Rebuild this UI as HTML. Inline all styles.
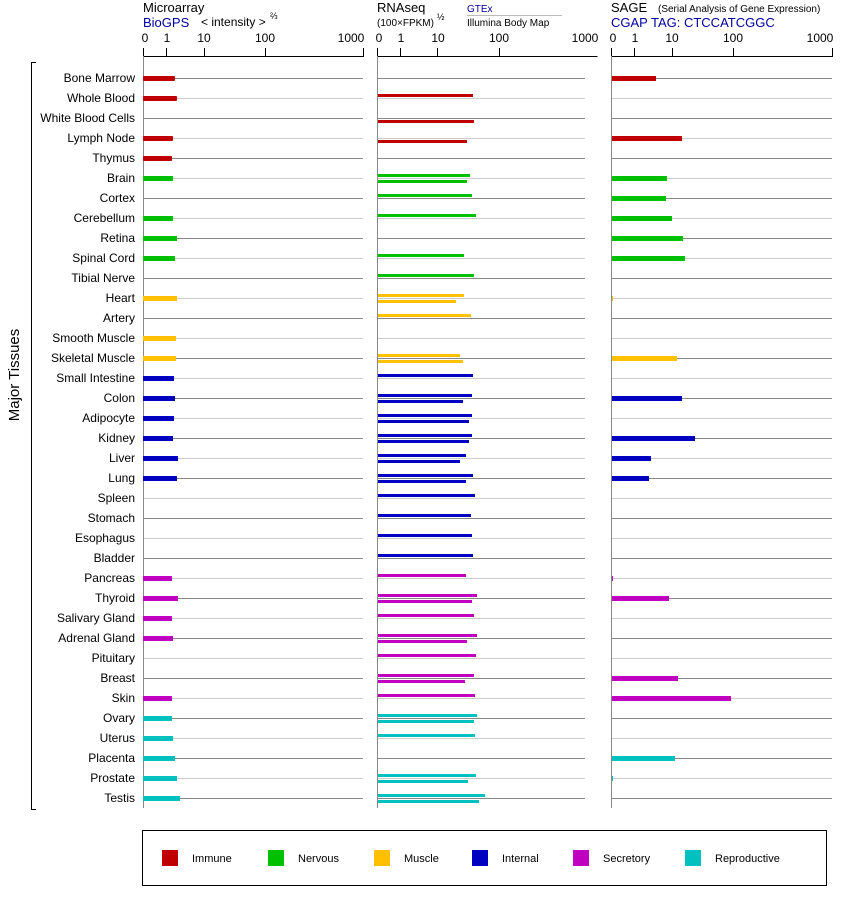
<!DOCTYPE html>
<html><head><meta charset="utf-8"><style>body{margin:0;background:#fff}svg{display:block;font-family:"Liberation Sans",sans-serif}</style></head><body>
<svg width="842" height="900" viewBox="0 0 842 900" xmlns="http://www.w3.org/2000/svg">
<defs>
<pattern id="gp" patternUnits="userSpaceOnUse" x="0" y="78" width="900" height="40">
<rect x="0" y="0" width="900" height="1" fill="#888"/><rect x="0" y="20" width="900" height="1" fill="#ccc"/>
</pattern>
</defs>
<g font-size="13" fill="#000">
<text x="143" y="12">Microarray</text>
<text x="143" y="27" fill="#0000a0">BioGPS</text>
<text x="201" y="26" font-size="12">&lt; intensity &gt;</text><text x="270" y="19" font-size="9">⅔</text>
<text x="377" y="12">RNAseq</text>
<text x="377" y="26" font-size="10">(100×FPKM)</text><text x="437" y="20" font-size="9">½</text>
<text x="467" y="12" font-size="10" fill="#0000a0">GTEx</text>
<line x1="467" y1="15.5" x2="562" y2="15.5" stroke="#bbb"/>
<text x="467" y="26" font-size="10">Illumina Body Map</text>
<text x="611" y="12">SAGE</text><text x="658" y="12" font-size="10">(Serial Analysis of Gene Expression)</text>
<text x="611" y="27" fill="#0000a0">CGAP TAG: CTCCATCGGC</text>
</g>
<g font-size="12" text-anchor="middle">
<text x="145" y="42">0</text><text x="167" y="42">1</text><text x="204" y="42">10</text><text x="265" y="42">100</text><text x="351" y="42">1000</text>
<text x="379" y="42">0</text><text x="401" y="42">1</text><text x="438" y="42">10</text><text x="499" y="42">100</text><text x="585" y="42">1000</text>
<text x="613" y="42">0</text><text x="635" y="42">1</text><text x="672" y="42">10</text><text x="733" y="42">100</text><text x="820" y="42">1000</text>
</g>
<g stroke="#000" stroke-width="1" fill="none">
<path d="M143.5 48V56.5H363.5V48M166.5 48V56M204.5 48V56M265.5 48V56"/>
<path d="M377.5 48V56.5H597.5M400.5 48V56M437.5 48V56M499.5 48V56"/>
<path d="M611.5 48V56.5H832.5V48M634.5 48V56M672.5 48V56M733.5 48V56"/>
<path d="M36 62.5H31.5V809.5H36"/>
</g>
<text transform="translate(19,375) rotate(-90)" font-size="15" text-anchor="middle">Major Tissues</text>
<rect x="143" y="78" width="220" height="721" fill="url(#gp)"/>
<rect x="377" y="78" width="208" height="721" fill="url(#gp)"/>
<rect x="611" y="78" width="221" height="721" fill="url(#gp)"/>
<g stroke="#888"><line x1="143.5" y1="56" x2="143.5" y2="808"/><line x1="377.5" y1="56" x2="377.5" y2="808"/><line x1="611.5" y1="56" x2="611.5" y2="808"/></g>
<g font-size="12" text-anchor="end">
<text x="135" y="82">Bone Marrow</text><text x="135" y="102">Whole Blood</text><text x="135" y="122">White Blood Cells</text><text x="135" y="142">Lymph Node</text><text x="135" y="162">Thymus</text><text x="135" y="182">Brain</text><text x="135" y="202">Cortex</text><text x="135" y="222">Cerebellum</text><text x="135" y="242">Retina</text><text x="135" y="262">Spinal Cord</text><text x="135" y="282">Tibial Nerve</text><text x="135" y="302">Heart</text><text x="135" y="322">Artery</text><text x="135" y="342">Smooth Muscle</text><text x="135" y="362">Skeletal Muscle</text><text x="135" y="382">Small Intestine</text><text x="135" y="402">Colon</text><text x="135" y="422">Adipocyte</text><text x="135" y="442">Kidney</text><text x="135" y="462">Liver</text><text x="135" y="482">Lung</text><text x="135" y="502">Spleen</text><text x="135" y="522">Stomach</text><text x="135" y="542">Esophagus</text><text x="135" y="562">Bladder</text><text x="135" y="582">Pancreas</text><text x="135" y="602">Thyroid</text><text x="135" y="622">Salivary Gland</text><text x="135" y="642">Adrenal Gland</text><text x="135" y="662">Pituitary</text><text x="135" y="682">Breast</text><text x="135" y="702">Skin</text><text x="135" y="722">Ovary</text><text x="135" y="742">Uterus</text><text x="135" y="762">Placenta</text><text x="135" y="782">Prostate</text><text x="135" y="802">Testis</text>
</g>
<g fill="#c00000"><rect x="143" y="76" width="32" height="5" rx="1"/><rect x="143" y="96" width="34" height="5" rx="1"/><rect x="143" y="136" width="30" height="5" rx="1"/><rect x="143" y="156" width="29" height="5" rx="1"/></g>
<g fill="#00c000"><rect x="143" y="176" width="30" height="5"/><rect x="143" y="216" width="30" height="5"/><rect x="143" y="236" width="34" height="5"/><rect x="143" y="256" width="32" height="5"/></g>
<g fill="#ffc000"><rect x="143" y="296" width="34" height="5"/><rect x="143" y="336" width="33" height="5"/><rect x="143" y="356" width="33" height="5"/></g>
<g fill="#0000c0"><rect x="143" y="376" width="31" height="5"/><rect x="143" y="396" width="32" height="5"/><rect x="143" y="416" width="31" height="5"/><rect x="143" y="436" width="30" height="5"/><rect x="143" y="456" width="35" height="5"/><rect x="143" y="476" width="34" height="5"/></g>
<g fill="#c000c0"><rect x="143" y="576" width="29" height="5"/><rect x="143" y="596" width="35" height="5"/><rect x="143" y="616" width="29" height="5"/><rect x="143" y="636" width="30" height="5"/><rect x="143" y="696" width="29" height="5"/></g>
<g fill="#00c0c0"><rect x="143" y="716" width="29" height="5"/><rect x="143" y="736" width="30" height="5"/><rect x="143" y="756" width="32" height="5"/><rect x="143" y="776" width="34" height="5"/><rect x="143" y="796" width="37" height="5"/></g>
<g fill="#c00000"><rect x="378" y="94" width="95" height="3"/><rect x="378" y="120" width="96" height="3"/><rect x="378" y="140" width="89" height="3"/></g>
<g fill="#00c000"><rect x="378" y="174" width="92" height="3"/><rect x="378" y="180" width="89" height="3"/><rect x="378" y="194" width="94" height="3"/><rect x="378" y="214" width="98" height="3"/><rect x="378" y="254" width="86" height="3"/><rect x="378" y="274" width="96" height="3"/></g>
<g fill="#ffc000"><rect x="378" y="294" width="86" height="3"/><rect x="378" y="300" width="78" height="3"/><rect x="378" y="314" width="93" height="3"/><rect x="378" y="354" width="82" height="3"/><rect x="378" y="360" width="85" height="3"/></g>
<g fill="#0000c0"><rect x="378" y="374" width="95" height="3"/><rect x="378" y="394" width="94" height="3"/><rect x="378" y="400" width="85" height="3"/><rect x="378" y="414" width="94" height="3"/><rect x="378" y="420" width="91" height="3"/><rect x="378" y="434" width="94" height="3"/><rect x="378" y="440" width="91" height="3"/><rect x="378" y="454" width="88" height="3"/><rect x="378" y="460" width="82" height="3"/><rect x="378" y="474" width="95" height="3"/><rect x="378" y="480" width="88" height="3"/><rect x="378" y="494" width="97" height="3"/><rect x="378" y="514" width="93" height="3"/><rect x="378" y="534" width="94" height="3"/><rect x="378" y="554" width="95" height="3"/></g>
<g fill="#c000c0"><rect x="378" y="574" width="88" height="3"/><rect x="378" y="594" width="99" height="3"/><rect x="378" y="600" width="94" height="3"/><rect x="378" y="614" width="96" height="3"/><rect x="378" y="634" width="99" height="3"/><rect x="378" y="640" width="89" height="3"/><rect x="378" y="654" width="98" height="3"/><rect x="378" y="674" width="96" height="3"/><rect x="378" y="680" width="87" height="3"/><rect x="378" y="694" width="97" height="3"/></g>
<g fill="#00c0c0"><rect x="378" y="714" width="99" height="3"/><rect x="378" y="720" width="96" height="3"/><rect x="378" y="734" width="97" height="3"/><rect x="378" y="774" width="98" height="3"/><rect x="378" y="780" width="90" height="3"/><rect x="378" y="794" width="107" height="3"/><rect x="378" y="800" width="101" height="3"/></g>
<g fill="#c00000"><rect x="612" y="76" width="44" height="5"/><rect x="612" y="136" width="70" height="5"/></g>
<g fill="#00c000"><rect x="612" y="176" width="55" height="5"/><rect x="612" y="196" width="54" height="5"/><rect x="612" y="216" width="60" height="5"/><rect x="612" y="236" width="71" height="5"/><rect x="612" y="256" width="73" height="5"/></g>
<g fill="#ffc000"><rect x="612" y="296" width="1" height="5"/><rect x="612" y="356" width="65" height="5"/></g>
<g fill="#0000c0"><rect x="612" y="396" width="70" height="5"/><rect x="612" y="436" width="83" height="5"/><rect x="612" y="456" width="39" height="5"/><rect x="612" y="476" width="37" height="5"/></g>
<g fill="#c000c0"><rect x="612" y="576" width="1" height="5"/><rect x="612" y="596" width="57" height="5"/><rect x="612" y="676" width="66" height="5"/><rect x="612" y="696" width="119" height="5"/></g>
<g fill="#00c0c0"><rect x="612" y="756" width="63" height="5"/><rect x="612" y="776" width="1" height="5"/></g>
<rect x="142.5" y="830.5" width="684" height="55" fill="none" stroke="#000"/>
<g font-size="11">
<rect x="162" y="850" width="16" height="16" fill="#c00000"/><text x="192" y="862">Immune</text>
<rect x="268" y="850" width="16" height="16" fill="#00c000"/><text x="298" y="862">Nervous</text>
<rect x="374" y="850" width="16" height="16" fill="#ffc000"/><text x="404" y="862">Muscle</text>
<rect x="472" y="850" width="16" height="16" fill="#0000c0"/><text x="502" y="862">Internal</text>
<rect x="573" y="850" width="16" height="16" fill="#c000c0"/><text x="603" y="862">Secretory</text>
<rect x="685" y="850" width="16" height="16" fill="#00c0c0"/><text x="715" y="862">Reproductive</text>
</g>
</svg>
</body></html>
